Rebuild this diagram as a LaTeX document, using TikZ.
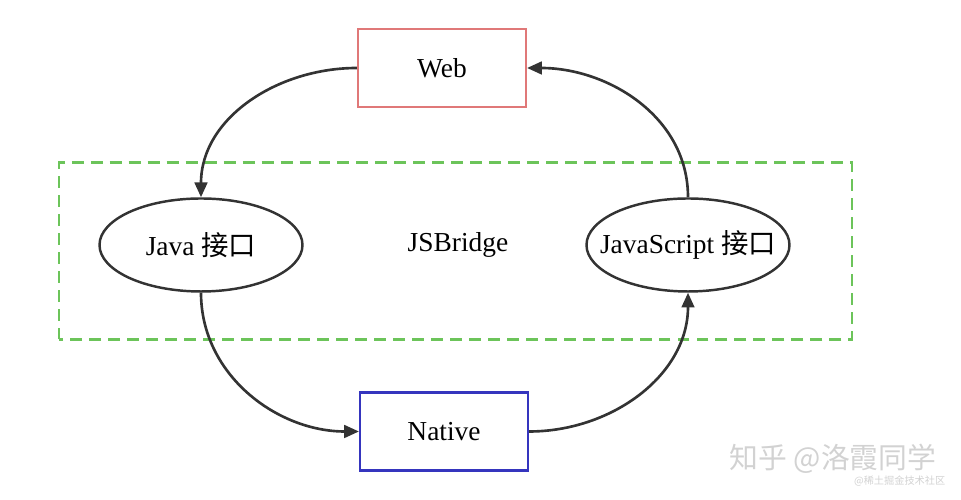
\documentclass[tikz,border=0pt]{standalone}
\usepackage{fontspec}
\setmainfont{Liberation Serif}
\newfontfamily\cjk{Noto Sans CJK SC}
\usepackage{xcolor}
\usetikzlibrary{shapes.geometric,arrows.meta}
\definecolor{webred}{HTML}{E07878}
\definecolor{nativeblue}{HTML}{3535BE}
\definecolor{bridgegreen}{HTML}{6CC45A}
\definecolor{linegray}{HTML}{333333}
\definecolor{markgray}{HTML}{D2D2D2}
\tikzset{
  endbox/.style={draw, line width=0.6pt, minimum width=1.68cm, minimum height=0.78cm, inner sep=0pt, font=\fontsize{7.8}{9}\selectfont},
  api/.style={draw=linegray, ellipse, line width=0.7pt, minimum width=2.03cm, minimum height=0.93cm, inner ysep=0pt, inner xsep=-0.17cm, font=\fontsize{7.8}{9}\selectfont},
  flow/.style={draw=linegray, line width=0.75pt, -{Triangle[length=4.2pt,width=3.6pt]}}
}
\begin{document}
\begin{tikzpicture}
\useasboundingbox (0,0) rectangle (9.61,5.00);
\draw[bridgegreen, line width=0.7pt, dash pattern=on 3.4pt off 2pt] (0.59,1.605) rectangle (8.52,3.375);
\node[endbox, draw=webred] (web) at (4.42,4.32) {Web};
\node[endbox, draw=nativeblue] (native) at (4.44,0.685) {Native};
\node[api] (java) at (2.01,2.55) {Java {\cjk 接口}};
\node[api] (js) at (6.88,2.55) {JavaScript {\cjk 接口}};
\node[font=\fontsize{7.8}{9}\selectfont] (bridge) at (4.58,2.55) {JSBridge};
\draw[flow] (web.west) to[out=180,in=90] (java.north);
\draw[flow] (java.south) to[out=-90,in=180] (native.west);
\draw[flow] (native.east) to[out=0,in=-90] (js.south);
\draw[flow] (js.north) to[out=90,in=0] (web.east);
\node[markgray, font=\cjk\fontsize{8.2}{9}\selectfont, anchor=west, inner sep=0pt] (mark) at (7.29,0.41) {知乎 @洛霞同学};
\node[markgray, font=\cjk\fontsize{2.9}{3}\selectfont, anchor=east, inner sep=0pt] (site) at (9.46,0.19) {@稀土掘金技术社区};
\end{tikzpicture}
\end{document}
